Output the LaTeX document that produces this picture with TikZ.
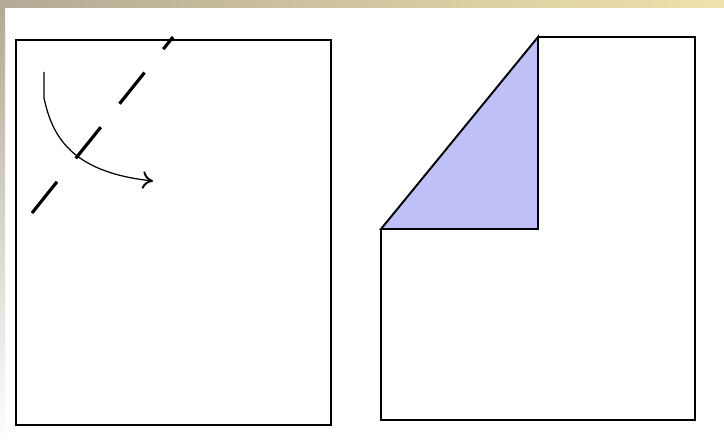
\documentclass[tikz,border=0pt]{standalone}
\usepackage{tikz}
\usetikzlibrary{arrows.meta,calc}

\definecolor{foldfill}{RGB}{192,192,248}
\definecolor{bandL}{RGB}{178,170,150}
\definecolor{bandR}{RGB}{240,226,170}

\begin{document}
\begin{tikzpicture}[
    x=0.02cm, y=-0.02cm,
    >=Stealth,
    sheet/.style={draw=black, line width=1.1pt, fill=white},
    fold/.style={draw=black, line width=1.1pt, fill=foldfill, line join=miter},
    creaseline/.style={draw=black, line width=1.8pt, dash pattern=on 0.8cm off 0.6cm},
    turn/.style={draw=black, line width=0.7pt, -{To[length=6pt,width=10pt,line width=1.1pt]}}
]

% background
\fill[white] (0,0) rectangle (724,445);
\shade[left color=bandL, right color=bandR] (0,0) rectangle (724,8);
\shade[top color=bandL, bottom color=white] (0,8) rectangle (5,445);
\useasboundingbox (0,0) rectangle (724,445);

% Left sheet with crease
\coordinate (lA) at (16,40);
\coordinate (lB) at (331,425);
\draw[sheet] (lA) rectangle (lB);

\coordinate (cs) at (32,213);
\coordinate (ce) at (173,37);
\draw[creaseline] (cs) -- (ce);

\coordinate (ts) at (44,72);
\coordinate (te) at (153,181);
\draw[turn] (ts) -- (44,98) .. controls (52,135) and (70,172) .. (te);

% Right sheet, corner folded
\coordinate (rTop) at (538,37);
\coordinate (rTR) at (695,37);
\coordinate (rBR) at (695,420);
\coordinate (rBL) at (381,420);
\coordinate (rL) at (381,229);
\coordinate (rIn) at (538,229);
\draw[sheet] (rTop) -- (rTR) -- (rBR) -- (rBL) -- (rL);
\draw[fold] (rL) -- (rTop) -- (rIn) -- cycle;

\end{tikzpicture}
\end{document}
